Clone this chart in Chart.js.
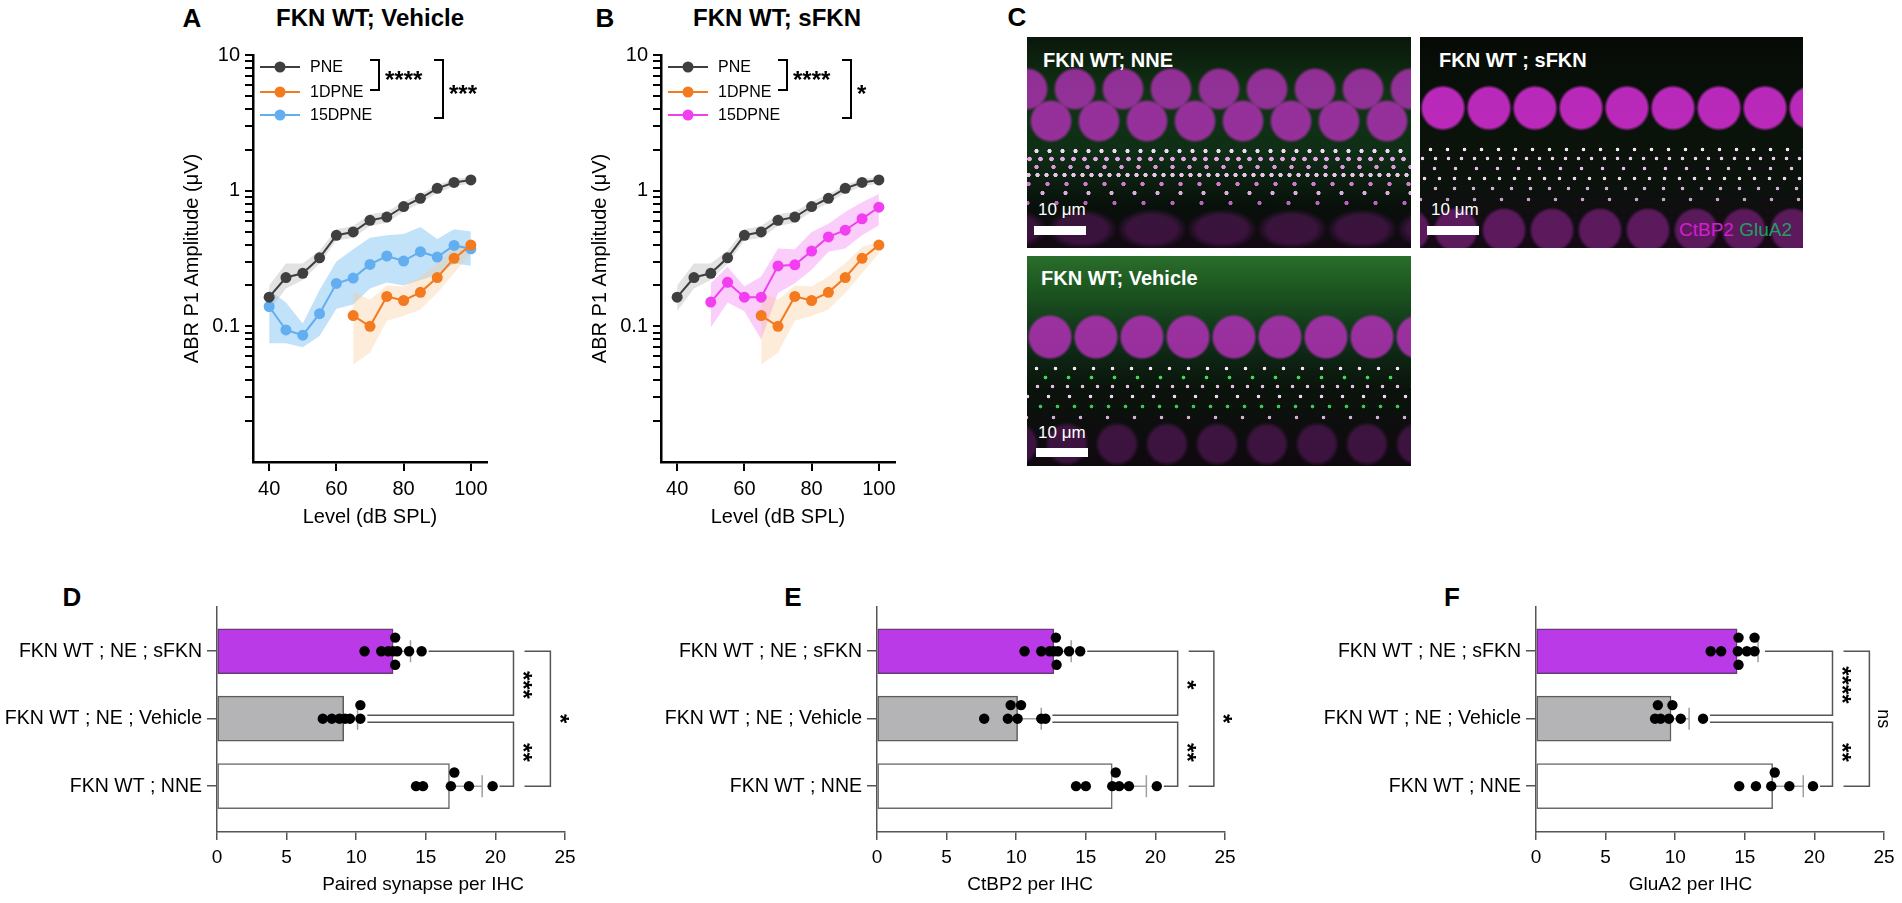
<!DOCTYPE html>
<html>
<head>
<meta charset="utf-8">
<script src="https://cdn.jsdelivr.net/npm/chart.js@4.4.1/dist/chart.umd.min.js"></script>
<style>
  body { margin: 0; background: #fff; font-family: "Liberation Sans", Arial, Helvetica, sans-serif; }
  #page { position: relative; width: 1902px; height: 903px; overflow: hidden; background: #fff; }
  .box { position: absolute; }
  .letter { position: absolute; font-weight: bold; font-size: 26px; transform: translate(-50%, -50%); }
  .title { position: absolute; font-weight: bold; font-size: 24px; transform: translate(-50%, -50%); white-space: nowrap; }
  .img { position: absolute; overflow: hidden; background-color: #050505; }
  .img .lab { position: absolute; color: #fff; font-weight: bold; font-size: 20px; line-height: 20px; white-space: nowrap; }
  .img .um { position: absolute; color: #fff; font-size: 17px; line-height: 17px; white-space: nowrap; }
  .img .sb { position: absolute; background: #fff; width: 52px; height: 9px; }
  .img .stain { position: absolute; right: 11px; font-size: 19px; line-height: 19px; white-space: nowrap; }

  .nne {
    background:
      radial-gradient(circle, rgba(255,225,255,.95) 0 1.8px, transparent 2.4px) 3px 110px/13px 8px repeat-x,
      radial-gradient(circle, rgba(255,180,255,.9) 0 2px, transparent 2.6px) 8px 118px/11px 8px repeat-x,
      radial-gradient(circle, rgba(245,160,245,.9) 0 1.9px, transparent 2.5px) 1px 126px/17px 8px repeat-x,
      radial-gradient(circle, rgba(255,215,255,.9) 0 1.9px, transparent 2.5px) 6px 134px/9px 8px repeat-x,
      radial-gradient(circle, rgba(240,140,240,.85) 0 1.9px, transparent 2.5px) 11px 143px/19px 8px repeat-x,
      radial-gradient(circle, rgba(255,200,255,.85) 0 1.8px, transparent 2.4px) 4px 152px/23px 8px repeat-x,
      radial-gradient(circle, rgba(230,120,230,.8) 0 1.8px, transparent 2.4px) 15px 162px/29px 8px repeat-x,
      radial-gradient(circle closest-side, rgba(168,48,172,.88) 84%, transparent 100%) 0 62px/48px 44px repeat-x,
      radial-gradient(circle closest-side, rgba(168,48,172,.85) 84%, transparent 100%) 24px 30px/48px 44px repeat-x,
      radial-gradient(closest-side, rgba(110,28,115,.45) 70%, transparent 100%) 20px 172px/70px 40px repeat-x,
      linear-gradient(to bottom, #0a170b 0%, #113414 28%, #0f2e16 55%, #08100a 80%, #140814 100%);
  }
  .sfkn {
    background:
      radial-gradient(circle, rgba(255,240,255,.95) 0 1.5px, transparent 2.1px) 2px 108px/17px 9px repeat-x,
      radial-gradient(circle, rgba(255,225,255,.9) 0 1.5px, transparent 2.1px) 9px 117px/13px 9px repeat-x,
      radial-gradient(circle, rgba(250,205,250,.9) 0 1.5px, transparent 2.1px) 4px 127px/21px 9px repeat-x,
      radial-gradient(circle, rgba(255,235,255,.9) 0 1.5px, transparent 2.1px) 12px 137px/15px 9px repeat-x,
      radial-gradient(circle, rgba(245,200,245,.85) 0 1.5px, transparent 2.1px) 6px 147px/19px 9px repeat-x,
      radial-gradient(circle, rgba(240,200,240,.8) 0 1.5px, transparent 2.1px) 14px 158px/27px 9px repeat-x,
      radial-gradient(circle closest-side, rgba(195,42,195,.95) 86%, transparent 100%) 0 48px/46px 46px repeat-x,
      radial-gradient(circle closest-side, rgba(115,30,115,.75) 84%, transparent 100%) 12px 170px/48px 46px repeat-x,
      linear-gradient(to bottom, #060a06 0%, #0a130a 40%, #0b120c 70%, #170917 100%);
  }
  .veh {
    background:
      radial-gradient(circle, rgba(255,235,255,.95) 0 1.5px, transparent 2.1px) 0 108px/19px 9px repeat-x,
      radial-gradient(circle, rgba(70,235,90,.9) 0 1.6px, transparent 2.2px) 7px 117px/23px 9px repeat-x,
      radial-gradient(circle, rgba(250,205,250,.9) 0 1.5px, transparent 2.1px) 3px 126px/15px 9px repeat-x,
      radial-gradient(circle, rgba(255,235,255,.9) 0 1.5px, transparent 2.1px) 11px 136px/21px 9px repeat-x,
      radial-gradient(circle, rgba(70,225,90,.85) 0 1.6px, transparent 2.2px) 5px 146px/17px 9px repeat-x,
      radial-gradient(circle, rgba(245,200,245,.85) 0 1.5px, transparent 2.1px) 13px 157px/27px 9px repeat-x,
      radial-gradient(circle closest-side, rgba(168,48,172,.9) 86%, transparent 100%) 0 58px/46px 46px repeat-x,
      radial-gradient(circle closest-side, rgba(90,25,95,.6) 80%, transparent 100%) 15px 166px/50px 44px repeat-x,
      linear-gradient(to bottom, #2a6e2c 0%, #1c561f 16%, #10321a 38%, #0a140b 62%, #100810 100%);
  }
</style>
</head>
<body>
<div id="page">
  <div class="letter" style="left:192px;top:18px">A</div>
  <div class="title" style="left:370px;top:18px">FKN WT; Vehicle</div>
  <div class="letter" style="left:605px;top:18px">B</div>
  <div class="title" style="left:777px;top:18px">FKN WT; sFKN</div>
  <div class="letter" style="left:1017px;top:17px">C</div>
  <div class="letter" style="left:72px;top:597px">D</div>
  <div class="letter" style="left:793px;top:597px">E</div>
  <div class="letter" style="left:1452px;top:597px">F</div>

  <div class="box" style="left:180px;top:38px;width:327px;height:491px"><canvas id="chartA"></canvas></div>
  <div class="box" style="left:588px;top:38px;width:327px;height:491px"><canvas id="chartB"></canvas></div>

  <div class="img nne" style="left:1027px;top:37px;width:384px;height:211px">
    <span class="lab" style="left:16px;top:13px">FKN WT; NNE</span>
    <span class="um" style="left:11px;top:164px">10 μm</span>
    <div class="sb" style="left:7px;top:189px"></div>
  </div>
  <div class="img sfkn" style="left:1420px;top:37px;width:383px;height:211px">
    <span class="lab" style="left:19px;top:13px">FKN WT ; sFKN</span>
    <span class="um" style="left:11px;top:164px">10 μm</span>
    <div class="sb" style="left:7px;top:189px"></div>
    <span class="stain" style="top:183px"><span style="color:#d21fd2">CtBP2</span> <span style="color:#1fa060">GluA2</span></span>
  </div>
  <div class="img veh" style="left:1027px;top:256px;width:384px;height:210px">
    <span class="lab" style="left:14px;top:12px">FKN WT; Vehicle</span>
    <span class="um" style="left:11px;top:168px">10 μm</span>
    <div class="sb" style="left:9px;top:192px"></div>
  </div>

  <div class="box" style="left:-8px;top:590px;width:609px;height:306px"><canvas id="chartD"></canvas></div>
  <div class="box" style="left:652px;top:590px;width:609px;height:306px"><canvas id="chartE"></canvas></div>
  <div class="box" style="left:1311px;top:590px;width:591px;height:306px"><canvas id="chartF"></canvas></div>
</div>

<script>
// ABR input/output (panels A, B)
const levels = [40, 45, 50, 55, 60, 65, 70, 75, 80, 85, 90, 95, 100];
const xTickVals = [40, 60, 80, 100];
const yLabelVals = [0.1, 1, 10];

const pne     = [0.164, 0.229, 0.246, 0.320, 0.469, 0.496, 0.604, 0.639, 0.764, 0.879, 1.04, 1.15, 1.20];
const pneHi   = [0.20, 0.29, 0.29, 0.36, 0.52, 0.55, 0.67, 0.70, 0.83, 0.94, 1.10, 1.22, 1.26];
const pneLo   = [0.13, 0.19, 0.22, 0.29, 0.43, 0.45, 0.55, 0.58, 0.70, 0.81, 0.96, 1.08, 1.13];

const dpne1   = [null, null, null, null, null, 0.120, 0.100, 0.166, 0.155, 0.178, 0.229, 0.317, 0.397];
const dpne1Hi = [null, null, null, null, null, 0.18, 0.157, 0.20, 0.197, 0.233, 0.292, 0.385, 0.42];
const dpne1Lo = [null, null, null, null, null, 0.052, 0.064, 0.11, 0.119, 0.133, 0.176, 0.246, 0.345];

const veh15   = [0.140, 0.094, 0.086, 0.124, 0.207, 0.227, 0.286, 0.330, 0.303, 0.355, 0.324, 0.395, 0.373];
const veh15Hi = [0.185, 0.15, 0.105, 0.185, 0.30, 0.37, 0.45, 0.47, 0.48, 0.54, 0.44, 0.52, 0.50];
const veh15Lo = [0.075, 0.075, 0.070, 0.085, 0.135, 0.145, 0.19, 0.21, 0.20, 0.22, 0.24, 0.29, 0.28];

const sfkn15   = [null, null, 0.151, 0.211, 0.164, 0.164, 0.279, 0.284, 0.359, 0.456, 0.511, 0.621, 0.755];
const sfkn15Hi = [null, null, 0.208, 0.275, 0.197, 0.233, 0.375, 0.37, 0.496, 0.571, 0.695, 0.82, 0.946];
const sfkn15Lo = [null, null, 0.098, 0.15, 0.129, 0.08, 0.176, 0.208, 0.261, 0.355, 0.375, 0.47, 0.556];

// synapse counts (panels D, E, F)
const groups = ['FKN WT ; NE ; sFKN', 'FKN WT ; NE ; Vehicle', 'FKN WT ; NNE'];

const pairedMean = [12.65, 9.1, 16.7];
const pairedSd   = [1.25, 1.0, 2.35];
const pairedSfkn = [10.6, 11.8, 12.3, 12.65, 12.8, 12.8, 12.95, 13.8, 14.7];
const pairedVeh  = [7.6, 8.25, 8.8, 9.2, 9.55, 10.3, 10.3];
const pairedNne  = [14.3, 14.8, 16.8, 17.05, 18.1, 19.8];

const ctbpMean = [12.7, 10.1, 16.9];
const ctbpSd   = [1.25, 1.7, 2.45];
const ctbpSfkn = [10.6, 11.8, 12.4, 12.7, 12.85, 12.9, 13.0, 13.8, 14.6];
const ctbpVeh  = [7.7, 9.4, 9.6, 10.1, 10.35, 11.8, 12.1];
const ctbpNne  = [14.3, 15.0, 16.9, 17.15, 17.4, 18.1, 20.1];

const gluMean = [14.45, 9.7, 17.0];
const gluSd   = [1.5, 1.3, 2.2];
const gluSfkn = [12.55, 13.3, 14.5, 14.55, 14.55, 15.15, 15.7, 15.7];
const gluVeh  = [8.55, 8.75, 8.95, 9.55, 9.8, 10.4, 12.0];
const gluNne  = [14.6, 15.8, 16.9, 17.15, 18.2, 19.9];

Chart.defaults.font.family = '"Liberation Sans", Arial, Helvetica, sans-serif';
Chart.defaults.color = '#000';

const FONT = '"Liberation Sans", Arial, Helvetica, sans-serif';
const PNE_C = '#3f3f3f', D1_C = '#f47a20', VEH_C = '#62aef0', SFKN_C = '#f23df0';

// log tick marks: 2..9 in every decade plus the decades
const yTickVals = [0.1, 1, 10];
[0.01, 0.1, 1].forEach(d => { for (let k = 2; k <= 9; k++) yTickVals.push(+(k * d).toPrecision(2)); });
yTickVals.sort((a, b) => a - b);

function xy(arr) { return levels.map((lv, i) => ({ x: lv, y: arr[i] })); }

function lineDs(label, arr, color) {
  return { label, data: xy(arr), borderColor: color, backgroundColor: color, borderWidth: 2,
    pointRadius: 5.5, pointHoverRadius: 5.5, pointBackgroundColor: color, pointBorderColor: color,
    pointBorderWidth: 0, fill: false, order: 0 };
}
function bandDs(hi, lo, color) {
  return [
    { data: xy(hi), fill: '+1', backgroundColor: color, borderWidth: 0, pointRadius: 0, order: 1 },
    { data: xy(lo), fill: false, borderWidth: 0, pointRadius: 0, order: 1 }
  ];
}

// draws text so that its ink is centred on (x, y)
function inkText(ctx, text, x, y, font, rotate, align) {
  ctx.save();
  ctx.translate(x, y);
  if (rotate) ctx.rotate(Math.PI / 2);
  ctx.font = font;
  ctx.textAlign = align || 'center';
  ctx.textBaseline = 'alphabetic';
  const m = ctx.measureText(text);
  ctx.fillText(text, 0, (m.actualBoundingBoxAscent - m.actualBoundingBoxDescent) / 2);
  ctx.restore();
}

const abrLegend = {
  id: 'abrLegend',
  afterDraw(chart, args, o) {
    const { ctx, chartArea: a } = chart;
    const lines = chart.data.datasets.filter(d => d.label);
    ctx.save();
    lines.forEach((d, i) => {
      const yy = a.top + o.rowY[i];
      ctx.strokeStyle = d.borderColor;
      ctx.lineWidth = 2;
      ctx.beginPath(); ctx.moveTo(a.left + 7, yy); ctx.lineTo(a.left + 47, yy); ctx.stroke();
      ctx.fillStyle = d.borderColor;
      ctx.beginPath(); ctx.arc(a.left + 27, yy, 5.5, 0, Math.PI * 2); ctx.fill();
      ctx.fillStyle = '#000';
      ctx.font = '16px ' + FONT;
      ctx.textAlign = 'left';
      ctx.textBaseline = 'middle';
      ctx.fillText(d.label, a.left + 57, yy + 1);
    });
    ctx.strokeStyle = '#000';
    ctx.lineWidth = 2;
    o.brackets.forEach(b => {
      const x = a.left + b.x, y0 = a.top + b.y0, y1 = a.top + b.y1;
      ctx.beginPath();
      ctx.moveTo(x - 9, y0); ctx.lineTo(x, y0); ctx.lineTo(x, y1); ctx.lineTo(x - 9, y1);
      ctx.stroke();
      ctx.fillStyle = '#000';
      inkText(ctx, b.label, x + 6, (y0 + y1) / 2, 'bold 24px ' + FONT, false, 'left');
    });
    ctx.restore();
  }
};

function abrChart(id, series, hi, lo, color, band, outerLabel) {
  new Chart(document.getElementById(id), {
    type: 'line',
    data: {
      datasets: [
        lineDs('PNE', pne, PNE_C),
        lineDs('1DPNE', dpne1, D1_C),
        lineDs('15DPNE', series, color),
        ...bandDs(pneHi, pneLo, 'rgba(185,185,185,0.42)'),
        ...bandDs(dpne1Hi, dpne1Lo, 'rgba(250,200,150,0.35)'),
        ...bandDs(hi, lo, band)
      ]
    },
    options: {
      responsive: true, maintainAspectRatio: false, animation: false, events: [],
      layout: { padding: { left: 0, top: 15, right: 20, bottom: 0 } },
      plugins: {
        legend: { display: false }, tooltip: { enabled: false },
        abrLegend: {
          rowY: [12, 37, 60],
          brackets: [ { x: 126, y0: 5, y1: 35, label: '****' }, { x: 190, y0: 5, y1: 63, label: outerLabel } ]
        }
      },
      scales: {
        x: {
          type: 'linear', min: 35.2, max: 104.8,
          afterBuildTicks: s => { s.ticks = xTickVals.map(v => ({ value: v })); },
          afterFit: s => { s.height = 67; },
          ticks: { font: { size: 20 }, padding: 6, color: '#000' },
          grid: { drawOnChartArea: false, color: '#000', lineWidth: 2, tickLength: 9 },
          border: { color: '#000', width: 2.5 },
          title: { display: true, text: 'Level (dB SPL)', font: { size: 20 }, padding: { top: 0, bottom: 0 }, color: '#000' }
        },
        y: {
          type: 'logarithmic', min: 0.01, max: 10,
          afterBuildTicks: s => { s.ticks = yTickVals.map(v => ({ value: v })); },
          afterFit: s => { s.width = 73; },
          ticks: { autoSkip: false, font: { size: 20 }, padding: 5, color: '#000',
            callback: v => yLabelVals.includes(v) ? String(v) : '' },
          grid: { drawOnChartArea: false, color: '#000', lineWidth: 2, tickLength: 8 },
          border: { color: '#000', width: 2.5 },
          title: { display: true, text: 'ABR P1 Amplitude (μV)', font: { size: 20 }, padding: { top: 0, bottom: 0 }, color: '#000' }
        }
      }
    },
    plugins: [abrLegend]
  });
}

abrChart('chartA', veh15, veh15Hi, veh15Lo, VEH_C, 'rgba(120,190,242,0.45)', '***');
abrChart('chartB', sfkn15, sfkn15Hi, sfkn15Lo, SFKN_C, 'rgba(245,130,245,0.40)', '*');

// ---- bar + dot plots ----
const Y_MIN = -0.66, Y_MAX = 2.68, X_MAX = 25;
const PLOT_W = 348, PLOT_H = 232;
const PX_X = PLOT_W / X_MAX, PX_ROW = PLOT_H / (Y_MAX - Y_MIN);

// simple beeswarm: keep the value, move colliding dots up / down a row
function swarm(vals, row) {
  const placed = [];
  const steps = [0, -14, 14, -28, 28];
  return vals.slice().sort((a, b) => a - b).map(v => {
    for (const dy of steps) {
      if (placed.every(p => Math.hypot((p.v - v) * PX_X, p.dy - dy) >= 3.5)) {
        placed.push({ v, dy });
        return { x: v, y: row + dy / PX_ROW };
      }
    }
    return { x: v, y: row };
  });
}

const barExtras = {
  id: 'barExtras',
  afterDatasetDraw(chart, args, o) {
    if (args.index !== 0) return;
    const { ctx, scales: { x, y } } = chart;
    ctx.save();
    ctx.strokeStyle = '#a0a0a0';
    ctx.lineWidth = 1.5;
    o.means.forEach((m, i) => {
      const yc = y.getPixelForValue(i);
      const x0 = x.getPixelForValue(m), x1 = x.getPixelForValue(m + o.sd[i]);
      ctx.beginPath();
      ctx.moveTo(x0, yc); ctx.lineTo(x1, yc);
      ctx.moveTo(x1, yc - 11); ctx.lineTo(x1, yc + 11);
      ctx.stroke();
    });
    ctx.restore();
  },
  afterDraw(chart, args, o) {
    const { ctx, scales: { x, y } } = chart;
    const rows = [0, 1, 2].map(i => y.getPixelForValue(i));
    const start = o.points.map((p, i) => x.getPixelForValue(Math.max(...p, o.means[i] + o.sd[i])) + 7);
    const xi = x.getPixelForValue(o.inner), xo = x.getPixelForValue(o.outer);
    const g = 3.5;
    ctx.save();
    ctx.strokeStyle = '#555';
    ctx.lineWidth = 1.5;
    ctx.beginPath();
    // inner top bracket
    ctx.moveTo(start[0], rows[0]); ctx.lineTo(xi, rows[0]); ctx.lineTo(xi, rows[1] - g); ctx.lineTo(start[1], rows[1] - g);
    // inner bottom bracket
    ctx.moveTo(start[1], rows[1] + g); ctx.lineTo(xi, rows[1] + g); ctx.lineTo(xi, rows[2]); ctx.lineTo(start[2], rows[2]);
    // outer bracket
    ctx.moveTo(xi + 11, rows[0]); ctx.lineTo(xo, rows[0]); ctx.lineTo(xo, rows[2]); ctx.lineTo(xi + 11, rows[2]);
    ctx.stroke();
    ctx.fillStyle = '#000';
    const lab = (t, px, py) => inkText(ctx, t, px, py, t === 'ns' ? '18px ' + FONT : 'bold 24px ' + FONT, true);
    lab(o.labels[0], xi + 14, (rows[0] + rows[1]) / 2);
    lab(o.labels[1], xi + 14, (rows[1] + rows[2]) / 2);
    lab(o.labels[2], xo + 14, (rows[0] + rows[2]) / 2);
    // axis title, placed where the figure puts it
    ctx.font = '19px ' + FONT;
    ctx.textAlign = 'center';
    ctx.textBaseline = 'middle';
    ctx.fillText(o.title, x.getPixelForValue(o.titleAt), x.bottom - 11.5);
    ctx.restore();
  }
};

function barChart(id, means, sd, pts, xTitle, titleAt, inner, outer, labels, padRight) {
  new Chart(document.getElementById(id), {
    type: 'bar',
    data: {
      datasets: [
        { data: means.map((m, i) => ({ x: m, y: i })), indexAxis: 'y', barThickness: 45,
          backgroundColor: ['#bb3ae8', '#b4b4b6', '#ffffff'],
          borderColor: ['#6a3a78', '#5c5c5c', '#6a6a6a'], borderWidth: 1.5, borderSkipped: false, order: 2 },
        ...pts.map((p, i) => ({ type: 'scatter', indexAxis: 'x', data: swarm(p, i), pointRadius: 5.2,
          pointBackgroundColor: '#000', pointBorderColor: '#000', pointBorderWidth: 0, order: 1 }))
      ]
    },
    options: {
      indexAxis: 'y',
      responsive: true, maintainAspectRatio: false, animation: false, events: [],
      layout: { padding: { left: 0, top: 10, right: padRight, bottom: 0 } },
      plugins: {
        legend: { display: false }, tooltip: { enabled: false },
        barExtras: { means, sd, points: pts, inner, outer, labels, title: xTitle, titleAt }
      },
      scales: {
        x: {
          type: 'linear', min: 0, max: X_MAX, offset: false,
          afterFit: s => { s.height = 64; },
          ticks: { stepSize: 5, font: { size: 19 }, padding: 6, color: '#000' },
          grid: { offset: false, drawOnChartArea: false, color: '#555', lineWidth: 1.5, tickLength: 8 },
          border: { color: '#555', width: 1.5 }
        },
        y: {
          type: 'linear', min: Y_MIN, max: Y_MAX, reverse: true, offset: false,
          afterBuildTicks: s => { s.ticks = groups.map((gName, i) => ({ value: i })); },
          afterFit: s => { s.width = 225; },
          ticks: { autoSkip: false, font: { size: 19.5 }, padding: 5, color: '#000', callback: v => groups[v] },
          grid: { offset: false, drawOnChartArea: false, color: '#555', lineWidth: 1.5, tickLength: 10 },
          border: { color: '#555', width: 1.5 }
        }
      }
    },
    plugins: [barExtras]
  });
}

barChart('chartD', pairedMean, pairedSd, [pairedSfkn, pairedVeh, pairedNne], 'Paired synapse per IHC', 14.8, 21.3, 23.95, ['***', '**', '*'], 36);
barChart('chartE', ctbpMean, ctbpSd, [ctbpSfkn, ctbpVeh, ctbpNne], 'CtBP2 per IHC', 11.0, 21.6, 24.2, ['*', '**', '*'], 36);
barChart('chartF', gluMean, gluSd, [gluSfkn, gluVeh, gluNne], 'GluA2 per IHC', 11.1, 21.3, 23.95, ['****', '**', 'ns'], 18);
</script>
</body>
</html>
